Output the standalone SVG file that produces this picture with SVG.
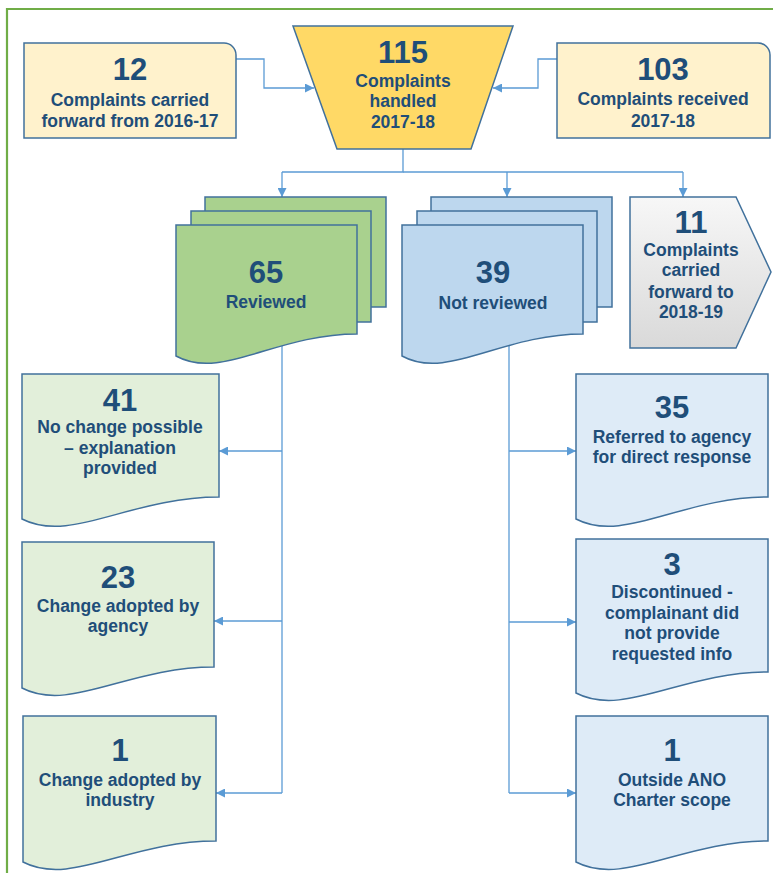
<svg xmlns="http://www.w3.org/2000/svg" width="773" height="873" viewBox="0 0 773 873">
<style>
  .num{font-family:"Liberation Sans",Arial,sans-serif;font-weight:bold;font-size:31px;fill:#1F4E79;text-anchor:middle}
  .lbl{font-family:"Liberation Sans",Arial,sans-serif;font-weight:bold;font-size:17.5px;fill:#1F4E79;text-anchor:middle}
  .shape{stroke:#41719C;stroke-width:1.5}
  .conn{fill:none;stroke:#5B9BD5;stroke-width:1.3}
  .yl{fill:#FFF2CC}
  .gd{fill:#E2EFDA}
  .bd{fill:#DEEBF7}
  .gs{fill:#A9D18E}
  .bs{fill:#BDD7EE}
</style>
<defs>
  <marker id="arr" viewBox="0 0 10 10" refX="10" refY="5" markerWidth="9" markerHeight="9" markerUnits="userSpaceOnUse" orient="auto">
    <path d="M0,0 L10,5 L0,10 Z" fill="#5B9BD5"/>
  </marker>
  <linearGradient id="grey" x1="0" y1="0" x2="0" y2="1">
    <stop offset="0" stop-color="#F7F7F7"/>
    <stop offset="1" stop-color="#D9D9D9"/>
  </linearGradient>
</defs>
<rect x="0" y="0" width="773" height="873" fill="#FFFFFF"/>
<g id="border" fill="none" stroke="#70AD47" stroke-width="2.2">
  <path d="M7,880 V9 H780"/>
</g>
<g id="connectors">
  <path class="conn" d="M236,59 H264 V88 H314" marker-end="url(#arr)"/>
  <path class="conn" d="M557,59 H538 V88 H493" marker-end="url(#arr)"/>
  <path class="conn" d="M403,149 V172 H282"/>
  <path class="conn" d="M403,172 H683"/>
  <path class="conn" d="M282,172 V197" marker-end="url(#arr)"/>
  <path class="conn" d="M507,172 V197" marker-end="url(#arr)"/>
  <path class="conn" d="M683,172 V197" marker-end="url(#arr)"/>
  <path class="conn" d="M282,340 V793"/>
  <path class="conn" d="M282,451 H219" marker-end="url(#arr)"/>
  <path class="conn" d="M282,621 H214" marker-end="url(#arr)"/>
  <path class="conn" d="M282,793 H216" marker-end="url(#arr)"/>
  <path class="conn" d="M509,340 V793"/>
  <path class="conn" d="M509,451 H576" marker-end="url(#arr)"/>
  <path class="conn" d="M509,622 H576" marker-end="url(#arr)"/>
  <path class="conn" d="M509,793 H576" marker-end="url(#arr)"/>
</g>
<g id="carried-in">
  <path class="shape yl" d="M24,43 H224 A12,12 0 0 1 236,55 V138 H24 Z"/>
  <text class="num" x="130" y="80">12</text>
  <text class="lbl" x="130" y="106">Complaints carried</text>
  <text class="lbl" x="130" y="127">forward from 2016-17</text>
</g>
<g id="handled">
  <path class="shape" fill="#FFD966" d="M293,26 H513 L471,149 H337 Z"/>
  <text class="num" x="403" y="63">115</text>
  <text class="lbl" x="403" y="87">Complaints</text>
  <text class="lbl" x="403" y="107">handled</text>
  <text class="lbl" x="403" y="128">2017-18</text>
</g>
<g id="received">
  <path class="shape yl" d="M557,43 H758 A12,12 0 0 1 770,55 V138 H557 Z"/>
  <text class="num" x="663" y="80">103</text>
  <text class="lbl" x="663" y="105">Complaints received</text>
  <text class="lbl" x="663" y="127">2017-18</text>
</g>
<g id="reviewed">
  <rect class="shape gs" x="205" y="197" width="181" height="110"/>
  <rect class="shape gs" x="191" y="211" width="180" height="111"/>
  <path class="shape gs" d="M176,225 H357 V334 C275.5,334 221.3,381 176,356 Z"/>
  <text class="num" x="266" y="283">65</text>
  <text class="lbl" x="266" y="308">Reviewed</text>
</g>
<g id="not-reviewed">
  <rect class="shape bs" x="431" y="197" width="181" height="110"/>
  <rect class="shape bs" x="417" y="211" width="180" height="111"/>
  <path class="shape bs" d="M402,225 H583 V334 C501.5,334 447.3,381 402,356 Z"/>
  <text class="num" x="493" y="283">39</text>
  <text class="lbl" x="493" y="309">Not reviewed</text>
</g>
<g id="carried-out">
  <path class="shape" fill="url(#grey)" d="M630,197 H736 L771,272 L736,348 H630 Z"/>
  <text class="num" x="691" y="233">11</text>
  <text class="lbl" x="691" y="256">Complaints</text>
  <text class="lbl" x="691" y="276">carried</text>
  <text class="lbl" x="691" y="298">forward to</text>
  <text class="lbl" x="691" y="318">2018-19</text>
</g>
<g id="no-change">
  <path class="shape gd" d="M22,374 H219 V497 C130,497 71,544 22,519 Z"/>
  <text class="num" x="120" y="411">41</text>
  <text class="lbl" x="120" y="433">No change possible</text>
  <text class="lbl" x="120" y="454">– explanation</text>
  <text class="lbl" x="120" y="474">provided</text>
</g>
<g id="change-agency">
  <path class="shape gd" d="M22,542 H214 V667 C127.6,667 70,713 22,688 Z"/>
  <text class="num" x="118" y="588">23</text>
  <text class="lbl" x="118" y="612">Change adopted by</text>
  <text class="lbl" x="118" y="632">agency</text>
</g>
<g id="change-industry">
  <path class="shape gd" d="M23,716 H216 V841 C129,841 71,887 23,862 Z"/>
  <text class="num" x="120" y="761">1</text>
  <text class="lbl" x="120" y="786">Change adopted by</text>
  <text class="lbl" x="120" y="806">industry</text>
</g>
<g id="referred">
  <path class="shape bd" d="M576,374 H768 V497 C681.6,497 624,544 576,519 Z"/>
  <text class="num" x="672" y="418">35</text>
  <text class="lbl" x="672" y="443">Referred to agency</text>
  <text class="lbl" x="672" y="463">for direct response</text>
</g>
<g id="discontinued">
  <path class="shape bd" d="M576,539 H768 V672 C681.6,672 624,718 576,693 Z"/>
  <text class="num" x="672" y="575">3</text>
  <text class="lbl" x="672" y="598">Discontinued -</text>
  <text class="lbl" x="672" y="619">complainant did</text>
  <text class="lbl" x="672" y="639">not provide</text>
  <text class="lbl" x="672" y="660">requested info</text>
</g>
<g id="outside">
  <path class="shape bd" d="M576,716 H768 V841 C681.6,841 624,887 576,862 Z"/>
  <text class="num" x="672" y="761">1</text>
  <text class="lbl" x="672" y="786">Outside ANO</text>
  <text class="lbl" x="672" y="806">Charter scope</text>
</g>
</svg>
